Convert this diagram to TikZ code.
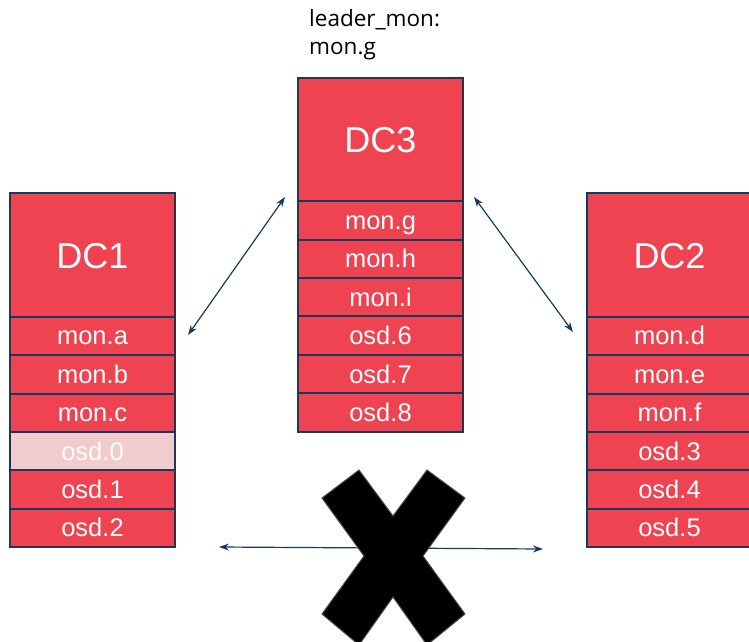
\documentclass[tikz,border=0pt]{standalone}
\usepackage{fontspec}
\setmainfont{Liberation Sans}
\newfontfamily\cellfont{Liberation Sans}
\newfontfamily\notefont{Open Sans}
\usetikzlibrary{arrows.meta}
\definecolor{cellred}{HTML}{EF4352}
\definecolor{cellpale}{HTML}{F2CBCC}
\definecolor{edgenavy}{HTML}{153A5E}
\begin{document}
\begin{tikzpicture}[x=1pt,y=-1pt,
  cell/.style={draw=edgenavy,line width=2pt,fill=cellred,text=white,
    minimum width=165pt,minimum height=38.4pt,inner sep=0pt,outer sep=0pt,
    text height=18pt,text depth=0pt,
    font=\cellfont\fontsize{25.5}{27}\selectfont},
  head/.style={cell,minimum height=123.5pt,text height=26pt,
    font=\cellfont\fontsize{36}{38}\selectfont},
  faded/.style={cell,fill=cellpale,text=white!96!cellpale},
  link/.style={draw=edgenavy,line width=1.2pt,
    {Stealth[length=10pt,width=7pt]}-{Stealth[length=10pt,width=7pt]}},
  cross/.style={fill=black,draw=black!70,line width=1pt}]
\useasboundingbox (0,0) rectangle (749,642);
\clip (0,0) rectangle (749,642);

% DC1 stack
\node[head] (dc1) at (92.5,255) {DC1};
\node[cell,anchor=north] (ma) at (dc1.south) {mon.a};
\node[cell,anchor=north] (mb) at (ma.south) {mon.b};
\node[cell,anchor=north] (mc) at (mb.south) {mon.c};
\node[faded,anchor=north] (o0) at (mc.south) {osd.0};
\node[cell,anchor=north] (o1) at (o0.south) {osd.1};
\node[cell,anchor=north] (o2) at (o1.south) {osd.2};

% DC3 stack
\node[head] (dc3) at (380.5,139.5) {DC3};
\node[cell,anchor=north] (mg) at (dc3.south) {mon.g};
\node[cell,anchor=north] (mh) at (mg.south) {mon.h};
\node[cell,anchor=north] (mi) at (mh.south) {mon.i};
\node[cell,anchor=north] (o6) at (mi.south) {osd.6};
\node[cell,anchor=north] (o7) at (o6.south) {osd.7};
\node[cell,anchor=north] (o8) at (o7.south) {osd.8};

% DC2 stack
\node[head] (dc2) at (669.5,255) {DC2};
\node[cell,anchor=north] (md) at (dc2.south) {mon.d};
\node[cell,anchor=north] (me) at (md.south) {mon.e};
\node[cell,anchor=north] (mf) at (me.south) {mon.f};
\node[cell,anchor=north] (o3) at (mf.south) {osd.3};
\node[cell,anchor=north] (o4) at (o3.south) {osd.4};
\node[cell,anchor=north] (o5) at (o4.south) {osd.5};

% redraw the separators so no fill hides them
\foreach \n in {ma,mb,mc,o0,o1,o2,mg,mh,mi,o6,o7,o8,md,me,mf,o3,o4,o5}
  \draw[edgenavy,line width=2pt] (\n.north west) -- (\n.north east);

% leader note
\node[anchor=base west,align=left,inner sep=0pt,
  font=\notefont\fontsize{22.5}{28}\selectfont] (leader) at (309,55)
  {leader\_mon:\\mon.g};

% links between the sites
\coordinate (a1) at (188,335);
\coordinate (a3) at (285,197);
\coordinate (b3) at (474,197);
\coordinate (b2) at (573,332);
\coordinate (c1) at (219,547);
\coordinate (c2) at (543,549);
\draw[link] (a1) -- (a3);
\draw[link] (b3) -- (b2);
\draw[link] (c1) -- (c2);

% broken link mark
\filldraw[cross] (359,470) -- (393,516) -- (427,470) -- (465,498) -- (423,556)
  -- (465,614) -- (427,645) -- (393,597) -- (359,645) -- (322,614)
  -- (364,556) -- (322,498) -- cycle;
\end{tikzpicture}
\end{document}
